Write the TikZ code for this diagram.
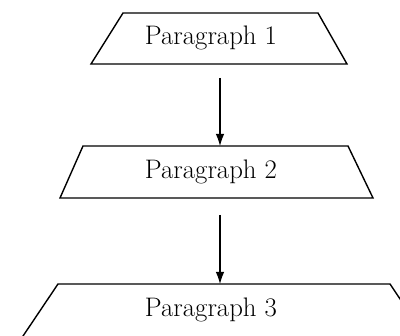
\documentclass[tikz,border=0pt]{standalone}
\usetikzlibrary{arrows.meta}
\begin{document}
\begin{tikzpicture}[x=1pt,y=-1pt,
  shapeline/.style={line width=1.4pt, line join=miter},
  label/.style={font=\fontsize{26.8}{30}\selectfont, anchor=base, inner sep=0pt},
  conn/.style={line width=1.1pt, -{Latex[length=12pt,width=8.5pt]}}]
\useasboundingbox (0,0) rectangle (400,336);
\clip (0,0) rectangle (400,336);
% trapezoid 1
\draw[shapeline] (123,13) -- (318,13) -- (347,64) -- (91,64) -- cycle;
\node[label] (p1) at (211,45) {Paragraph 1};
% trapezoid 2
\draw[shapeline] (83,146) -- (348,146) -- (373,198) -- (60,198) -- cycle;
\node[label] (p2) at (211,178.5) {Paragraph 2};
% trapezoid 3 (cut by lower edge)
\draw[shapeline] (19,342) -- (58,284) -- (390,284) -- (429,342);
\node[label] (p3) at (211,317) {Paragraph 3};
% connectors
\coordinate (a1s) at (220,78);
\coordinate (a1e) at (220,146);
\coordinate (a2s) at (220,215);
\coordinate (a2e) at (220,284);
\draw[conn] (a1s) -- (a1e);
\draw[conn] (a2s) -- (a2e);
\end{tikzpicture}
\end{document}
